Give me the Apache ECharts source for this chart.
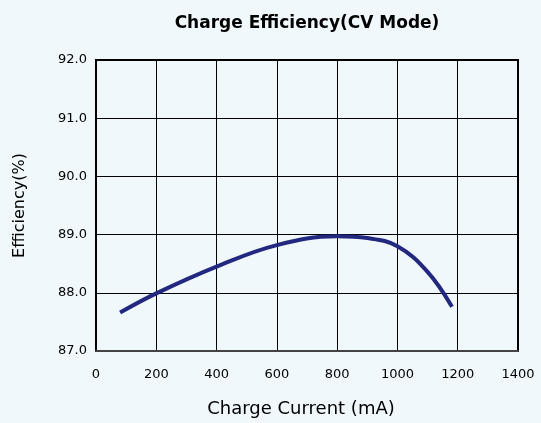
<!DOCTYPE html>
<html><head><meta charset="utf-8">
<script src="https://cdn.jsdelivr.net/npm/echarts@6/dist/echarts.min.js"></script>
<style>html,body{margin:0;padding:0;background:#f0f8fb;}#c{width:541px;height:423px;}</style>
</head><body><div id="c"></div>
<script>
const currents = [80, 200, 400, 600, 800, 900, 1000, 1100, 1181];
const efficiency = [87.66, 87.99, 88.45, 88.82, 88.97, 88.94, 88.80, 88.36, 87.76];
const chartTitle = 'Charge Efficiency(CV Mode)';
const xName = 'Charge Current (mA)';
const yName = 'Efficiency(%)';

const chart = echarts.init(document.getElementById('c'));
chart.setOption({
  backgroundColor: '#f0f8fb',
  animation: false,
  title: {
    text: chartTitle, left: 302, top: 10, textAlign: 'center',
    textStyle: { fontFamily: 'DejaVu Sans', fontWeight: 'bold', fontSize: 17, color: '#000' }
  },
  grid: { left: 96, right: 23, top: 60, bottom: 68, show: true, borderColor: '#000', borderWidth: 2, backgroundColor: 'transparent' },
  xAxis: {
    type: 'value', min: 0, max: 1400, interval: 200,
    name: xName, nameLocation: 'middle', nameGap: 49,
    nameTextStyle: { fontFamily: 'DejaVu Sans', fontSize: 18, color: '#000', padding: [0, 12, 0, 0] },
    axisLine: { show: true, lineStyle: { color: '#444', width: 2 } },
    axisTick: { show: false },
    axisLabel: { margin: 17, fontFamily: 'DejaVu Sans', fontSize: 13, color: '#000', formatter: v => String(v) },
    splitLine: { show: true, lineStyle: { color: '#000', width: 1 } }
  },
  yAxis: {
    type: 'value', min: 87, max: 92, interval: 1,
    name: yName, nameLocation: 'middle', nameGap: 68, nameRotate: 90,
    nameTextStyle: { fontFamily: 'DejaVu Sans', fontSize: 16, color: '#000' },
    axisLine: { show: true, lineStyle: { color: '#000', width: 2 } },
    axisTick: { show: false },
    axisLabel: { margin: 9, fontFamily: 'DejaVu Sans', fontSize: 13, color: '#000', formatter: v => v.toFixed(1) },
    splitLine: { show: true, lineStyle: { color: '#000', width: 1 } }
  },
  series: [{
    type: 'line', smooth: 0.4, showSymbol: false,
    data: currents.map((c, i) => [c, efficiency[i]]),
    lineStyle: { color: '#22287f', width: 4 }
  }]
});
</script></body></html>
